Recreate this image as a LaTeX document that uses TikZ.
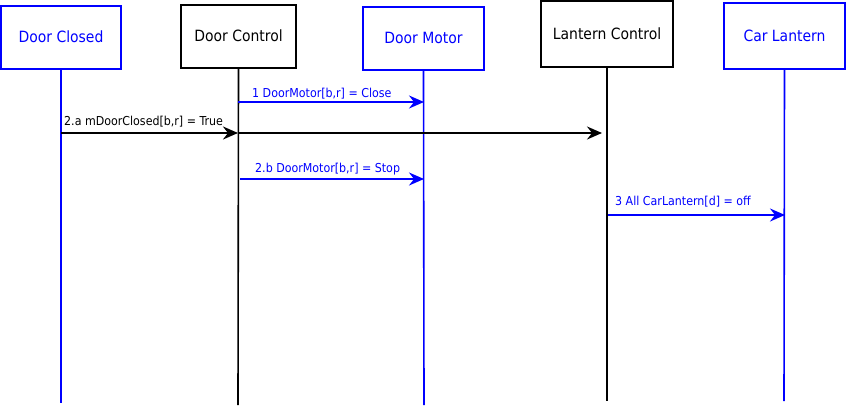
\documentclass[tikz,border=0pt]{standalone}
\usepackage{fontspec}
\setmainfont{DejaVu Sans Condensed}
\usetikzlibrary{arrows.meta}
\definecolor{bl}{RGB}{0,0,255}
\begin{document}
\begin{tikzpicture}[x=1pt,y=-1pt,
  obj/.style={draw,line width=2pt,minimum height=63pt,inner sep=0pt,font=\fontsize{15.5}{17}\selectfont},
  life/.style={line width=1.6pt},
  msg/.style={line width=1.8pt,-{Stealth[length=15pt,width=13pt,inset=5pt]}},
  lbl/.style={font=\fontsize{12.3}{13}\selectfont,inner sep=0pt,anchor=south west}]
\useasboundingbox (0,0) rectangle (846,407);
\fill[white] (0,0) rectangle (846,407);
% objects
\node[obj,bl,text=bl,minimum width=120pt] (dc) at (61,37) {Door Closed};
\node[obj,minimum width=115pt] (ctl) at (238.5,36) {Door Control};
\node[obj,bl,text=bl,minimum width=121pt] (dm) at (423.5,38) {Door Motor};
\node[obj,minimum width=132pt,minimum height=66pt] (lc) at (607,34) {Lantern Control};
\node[obj,bl,text=bl,minimum width=121pt,minimum height=66pt] (cl) at (784.5,36) {Car Lantern};
% lifelines
\coordinate (dcE) at (61,403);
\coordinate (ctlE) at (238,405);
\coordinate (dmE) at (424,405);
\coordinate (lcE) at (607,401);
\coordinate (clE) at (784,401);
\draw[life,bl] (dc.south) -- (dcE);
\draw[life] (ctl.south) -- (ctlE);
\draw[life,bl] (dm.south) -- (dmE);
\draw[life] (lc.south) -- (lcE);
\draw[life,bl] (cl.south) -- (clE);
% messages
\coordinate (m1s) at (238,102);
\coordinate (m1e) at (424,102);
\draw[msg,bl] (m1s) -- (m1e);
\node[lbl,text=bl] (l1) at (252,99) {1 DoorMotor[b,r] = Close};

\coordinate (m2s) at (61,133);
\coordinate (m2m) at (238,133);
\coordinate (m2e) at (602,133);
\draw[msg,line width=2.8pt] (m2s) -- (m2m);
\draw[msg] (m2m) -- (m2e);
\node[lbl] (l2) at (64,127) {2.a mDoorClosed[b,r] = True};

\coordinate (m3s) at (240,179);
\coordinate (m3e) at (424,179);
\draw[msg,bl] (m3s) -- (m3e);
\node[lbl,text=bl] (l3) at (255,175) {2.b DoorMotor[b,r] = Stop};

\coordinate (m4s) at (608,215);
\coordinate (m4e) at (785,215);
\draw[msg,bl] (m4s) -- (m4e);
\node[lbl,text=bl] (l4) at (615,207) {3 All CarLantern[d] = off};
\end{tikzpicture}
\end{document}
